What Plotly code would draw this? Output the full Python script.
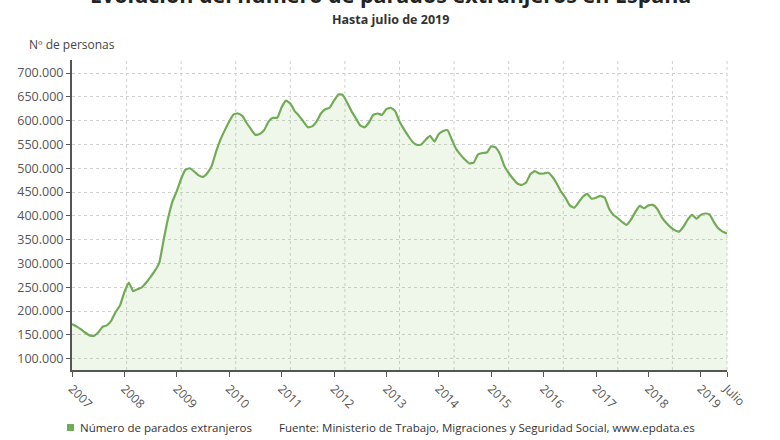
import plotly.graph_objects as go

# ---- data (monthly, Jan 2007 .. Jul 2019), values in persons ----
parados_miles = [
    # 2007
    173, 168, 162, 155, 149, 148, 155, 167, 170, 180, 198, 212,
    # 2008
    240, 260, 242, 246, 250, 260, 272, 285, 302, 350, 395, 430,
    # 2009
    452, 478, 497, 500, 493, 485, 482, 490, 505, 535, 560, 580,
    # 2010
    598, 613, 615, 610, 595, 582, 570, 572, 580, 598, 606, 606,
    # 2011
    628, 642, 636, 620, 610, 598, 586, 588, 598, 615, 624, 627,
    # 2012
    642, 655, 654, 638, 620, 605, 590, 586, 596, 612, 615, 612,
    # 2013
    624, 627, 620, 598, 582, 568, 555, 549, 550, 560, 568, 556,
    # 2014
    572, 578, 580, 560, 540, 528, 518, 510, 512, 529, 532, 533,
    # 2015
    546, 544, 530, 505, 490, 478, 468, 465, 470, 488, 494, 489,
    # 2016
    489, 491, 482, 468, 451, 438, 422, 417, 428, 440, 446, 436,
    # 2017
    438, 442, 438, 415, 402, 395, 387, 381, 392, 408, 421, 416,
    # 2018
    422, 423, 415, 398, 386, 377, 370, 367, 377, 392, 402, 394,
    # 2019
    402, 405, 403, 387, 374, 367, 363,
]
parados = [v * 1000 for v in parados_miles]
meses = list(range(len(parados)))  # month index from Jan 2007

tick_pos = [0, 12, 24, 36, 48, 60, 72, 84, 96, 108, 120, 132, 144, 150]
tick_labels = ["2007", "2008", "2009", "2010", "2011", "2012", "2013",
               "2014", "2015", "2016", "2017", "2018", "2019", "Julio"]
y_ticks = [100000, 150000, 200000, 250000, 300000, 350000, 400000,
           450000, 500000, 550000, 600000, 650000, 700000]

title = "Evolución del número de parados extranjeros en España"
subtitle = "Hasta julio de 2019"
y_title = "Nº de personas"
serie_name = "Número de parados extranjeros"
fuente = "Fuente: Ministerio de Trabajo, Migraciones y Seguridad Social, www.epdata.es"

GREEN = "#72ab55"
FONT = "Open Sans"

fig = go.Figure()
fig.add_trace(go.Scatter(
    x=meses, y=parados, mode="lines", name=serie_name,
    line=dict(color=GREEN, width=2.2, shape="spline", smoothing=0.4),
    fill="tozeroy", fillcolor="rgba(140,200,110,0.14)",
    hoverinfo="skip", showlegend=False,
))

shapes = []
for k in range(1, 13):
    shapes.append(dict(type="line", xref="paper", yref="paper",
                       x0=k / 12, x1=k / 12, y0=0, y1=1,
                       line=dict(color="#d0d0d0", width=1, dash="dot"),
                       layer="below"))
# legend square
shapes.append(dict(type="rect", xref="paper", yref="paper",
                   x0=(67 - 72) / 655, x1=(74 - 72) / 655,
                   y0=(370 - 431) / 310, y1=(370 - 424) / 310,
                   fillcolor=GREEN, line=dict(width=0)))

annotations = [
    dict(text="<b>" + title + "</b>", xref="paper", yref="paper",
         x=(390 - 72) / 655, y=(370 + 5) / 310, xanchor="center", yanchor="middle",
         showarrow=False, font=dict(family=FONT, size=21.5, color="#222222")),
    dict(text="<b>" + subtitle + "</b>", xref="paper", yref="paper",
         x=(390 - 72) / 655, y=(370 - 20) / 310, xanchor="center", yanchor="middle",
         showarrow=False, font=dict(family=FONT, size=12.5, color="#333333")),
    dict(text=y_title, xref="paper", yref="paper",
         x=(27 - 72) / 655, y=(370 - 44) / 310, xanchor="left", yanchor="middle",
         showarrow=False, font=dict(family=FONT, size=12, color="#444444")),
    dict(text=serie_name, xref="paper", yref="paper",
         x=(78 - 72) / 655, y=(370 - 427) / 310, xanchor="left", yanchor="middle",
         showarrow=False, font=dict(family=FONT, size=11.5, color="#333333")),
    dict(text=fuente, xref="paper", yref="paper",
         x=(277 - 72) / 655, y=(370 - 427) / 310, xanchor="left", yanchor="middle",
         showarrow=False, font=dict(family=FONT, size=11.5, color="#333333")),
]

fig.update_layout(
    width=780, height=440,
    margin=dict(l=72, r=53, t=60, b=70, pad=0),
    paper_bgcolor="white", plot_bgcolor="white",
    separators=",.",
    font=dict(family=FONT, size=12, color="#555555"),
    shapes=shapes, annotations=annotations,
    showlegend=False,
)
fig.update_xaxes(
    range=[0, 150], tickmode="array", tickvals=tick_pos, ticktext=tick_labels,
    tickangle=45, showgrid=False, zeroline=False,
    showline=True, linecolor="#555555", linewidth=2,
    ticks="outside", ticklen=5, tickcolor="#555555", tickwidth=1,
    tickfont=dict(family=FONT, size=12, color="#555555"),
)
fig.update_yaxes(
    range=[76300, 727300], tickmode="array", tickvals=y_ticks, tickformat=",d",
    showgrid=True, gridcolor="#d0d0d0", griddash="dot", gridwidth=1,
    zeroline=False, showline=True, linecolor="#555555", linewidth=2,
    ticks="outside", ticklen=4, tickcolor="#555555",
    tickfont=dict(family=FONT, size=12.5, color="#555555"),
)

fig.write_html("out.html")
